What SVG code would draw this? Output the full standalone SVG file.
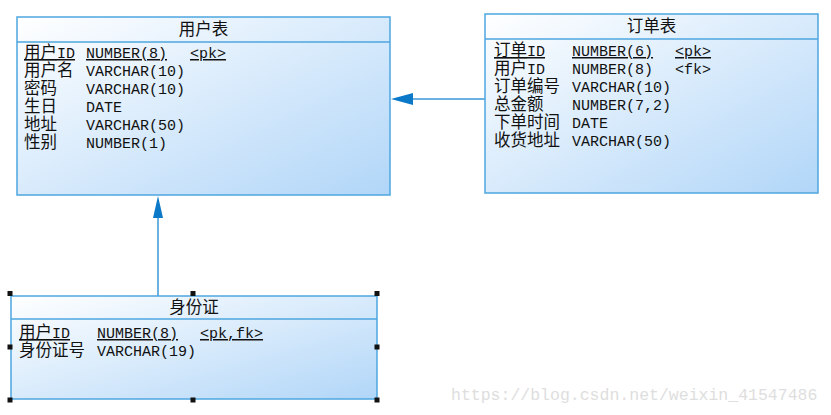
<svg xmlns="http://www.w3.org/2000/svg" width="831" height="415" viewBox="0 0 831 415">
<style>
.box{fill:url(#g);stroke:#4ea6df;stroke-width:1.5}
.sep{stroke:#4ea6df;stroke-width:1.5}
text{font-family:"Liberation Mono","Noto Sans CJK SC",monospace;font-size:15px;fill:#111}
.title{text-anchor:middle;font-size:16px}
.u{text-decoration:underline}
.c{font-size:16.5px}
.conn{stroke:#3a98d8;stroke-width:1.5;fill:none}
.head{fill:#0b78c8}
.h{fill:#111}
.wm{font-size:16.5px;fill:#dedede}
</style>
<defs>
<linearGradient id="g" x1="0" y1="0" x2="1" y2="1">
<stop offset="0" stop-color="#ffffff"/>
<stop offset="1" stop-color="#b1d6f8"/>
</linearGradient>
</defs>
<g id="connectors">
<line class="conn" x1="485" y1="99" x2="412" y2="99"/>
<polygon class="head" points="391,99 413,93 413,105"/>
<line class="conn" x1="158" y1="296" x2="158" y2="217"/>
<polygon class="head" points="158,196 153,218 163,218"/>
</g>
<g id="user-table">
<rect class="box" x="17" y="17" width="373" height="178"/>
<line class="sep" x1="17" y1="42" x2="390" y2="42"/>
<text class="title" x="203.5" y="35"><tspan class="c">用户表</tspan></text>
<text x="24" y="58" class="u"><tspan class="c">用户</tspan>ID</text>
<text x="86" y="58" class="u">NUMBER(8)</text>
<text x="190" y="58" class="u">&lt;pk&gt;</text>
<text x="24" y="76"><tspan class="c">用户名</tspan></text>
<text x="86" y="76">VARCHAR(10)</text>
<text x="24" y="94"><tspan class="c">密码</tspan></text>
<text x="86" y="94">VARCHAR(10)</text>
<text x="24" y="112"><tspan class="c">生日</tspan></text>
<text x="86" y="112">DATE</text>
<text x="24" y="130"><tspan class="c">地址</tspan></text>
<text x="86" y="130">VARCHAR(50)</text>
<text x="24" y="148"><tspan class="c">性别</tspan></text>
<text x="86" y="148">NUMBER(1)</text>
</g>
<g id="order-table">
<rect class="box" x="485" y="14" width="333" height="179"/>
<line class="sep" x1="485" y1="39" x2="818" y2="39"/>
<text class="title" x="651.5" y="32"><tspan class="c">订单表</tspan></text>
<text x="494" y="56" class="u"><tspan class="c">订单</tspan>ID</text>
<text x="572" y="56" class="u">NUMBER(6)</text>
<text x="675" y="56" class="u">&lt;pk&gt;</text>
<text x="494" y="74"><tspan class="c">用户</tspan>ID</text>
<text x="572" y="74">NUMBER(8)</text>
<text x="675" y="74">&lt;fk&gt;</text>
<text x="494" y="92"><tspan class="c">订单编号</tspan></text>
<text x="572" y="92">VARCHAR(10)</text>
<text x="494" y="110"><tspan class="c">总金额</tspan></text>
<text x="572" y="110">NUMBER(7,2)</text>
<text x="494" y="128"><tspan class="c">下单时间</tspan></text>
<text x="572" y="128">DATE</text>
<text x="494" y="146"><tspan class="c">收货地址</tspan></text>
<text x="572" y="146">VARCHAR(50)</text>
</g>
<g id="id-card-table">
<rect class="box" x="11" y="296" width="366" height="103"/>
<line class="sep" x1="11" y1="319" x2="377" y2="319"/>
<text class="title" x="194" y="313"><tspan class="c">身份证</tspan></text>
<text x="19" y="338" class="u"><tspan class="c">用户</tspan>ID</text>
<text x="97" y="338" class="u">NUMBER(8)</text>
<text x="200" y="338" class="u">&lt;pk,fk&gt;</text>
<text x="19" y="356"><tspan class="c">身份证号</tspan></text>
<text x="97" y="356">VARCHAR(19)</text>
<g id="handles">
<rect class="h" x="7.5" y="291" width="5" height="5"/>
<rect class="h" x="190.5" y="291" width="5" height="5"/>
<rect class="h" x="374.5" y="291" width="5" height="5"/>
<rect class="h" x="7.5" y="344.5" width="5" height="5"/>
<rect class="h" x="374.5" y="344.5" width="5" height="5"/>
<rect class="h" x="7.5" y="397.5" width="5" height="5"/>
<rect class="h" x="190.5" y="397.5" width="5" height="5"/>
<rect class="h" x="374.5" y="397.5" width="5" height="5"/>
</g>
</g>
<text class="wm" x="451" y="400">https://blog.csdn.net/weixin_41547486</text>
</svg>
